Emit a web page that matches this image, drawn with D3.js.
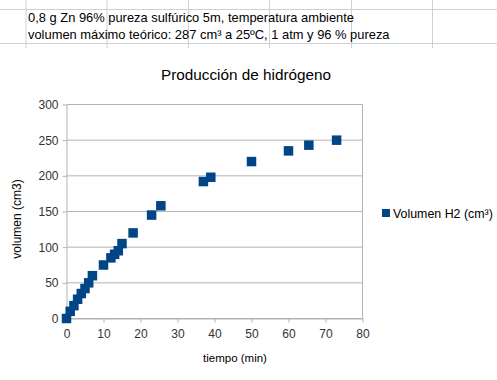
<!DOCTYPE html>
<html><head><meta charset="utf-8">
<script src="https://cdn.jsdelivr.net/npm/d3@7"></script>
<style>body{margin:0;background:#fff}svg{display:block}</style>
</head><body>
<svg id="c" width="497" height="380"></svg>
<script>
const tiempo = [0,1,2,3,4,5,6,7,10,12,13,14,15,18,23,25.5,37,39,50,60,65.5,73];
const volumen = [0,10,18,27,35,42,50,60,75,85,90,95,105,120,145,158,192,198,220,235,243,250];
const xTicks = [0,10,20,30,40,50,60,70,80];
const yTicks = [0,50,100,150,200,250,300];
const sheetLines = ["0,8 g Zn 96% pureza sulfúrico 5m, temperatura ambiente",
                    "volumen máximo teórico: 287 cm³ a 25ºC, 1 atm y 96 % pureza"];
const titleText = "Producción de hidrógeno";
const xTitle = "tiempo (min)";
const yTitle = "volumen (cm3)";
const legendText = "Volumen H2 (cm³)";

const svg = d3.select("#c");
const font = "Liberation Sans, Arial, sans-serif";

// spreadsheet grid
const sg = svg.append("g");
[26,107,188.5,269.5,351.5,432.5].forEach(x=>{
  sg.append("line").attr("x1",x).attr("x2",x).attr("y1",0).attr("y2",48).attr("stroke","#d0d0d0");
});
[9.5,43.5].forEach(y=>{
  sg.append("line").attr("x1",0).attr("x2",497).attr("y1",y).attr("y2",y).attr("stroke","#d0d0d0");
});
sheetLines.forEach((t,i)=>{
  sg.append("text").attr("x",28).attr("y",22+i*17).attr("font-family",font).attr("font-size",12.9).attr("fill","#000").text(t);
});

const x = d3.scaleLinear().domain([0,80]).range([66.5,362.5]);
const y = d3.scaleLinear().domain([0,300]).range([318.5,104.5]);

// gridlines
svg.append("g").selectAll("line").data(yTicks).join("line")
  .attr("x1",x(0)).attr("x2",x(80)).attr("y1",d=>y(d)).attr("y2",d=>y(d)).attr("stroke","#b3b3b3");
// right border
svg.append("line").attr("x1",x(80)).attr("x2",x(80)).attr("y1",y(300)).attr("y2",y(0)).attr("stroke","#b3b3b3");

const xa = svg.append("g").attr("transform",`translate(0,${y(0)})`)
  .call(d3.axisBottom(x).tickValues(xTicks).tickSize(4).tickSizeOuter(0).tickPadding(4));
const ya = svg.append("g").attr("transform",`translate(${x(0)},0)`)
  .call(d3.axisLeft(y).tickValues(yTicks).tickSize(4).tickSizeOuter(0).tickPadding(4));
[xa,ya].forEach(a=>{
  a.select(".domain").attr("stroke","#b3b3b3");
  a.selectAll(".tick line").attr("stroke","#b3b3b3");
  a.selectAll("text").attr("font-family",font).attr("font-size",12).attr("fill","#333");
});
xa.selectAll("text").attr("dy","0.95em");

// markers
const s = 9.5;
svg.append("g").selectAll("rect").data(tiempo.map((t,i)=>[t,volumen[i]])).join("rect")
  .attr("x",d=>x(d[0])-s/2).attr("y",d=>y(d[1])-s/2).attr("width",s).attr("height",s).attr("fill","#004586");

// titles
svg.append("text").attr("x",246).attr("y",80).attr("text-anchor","middle").attr("font-family",font).attr("font-size",15.3).attr("fill","#000").text(titleText);
svg.append("text").attr("x",235).attr("y",362).attr("text-anchor","middle").attr("font-family",font).attr("font-size",11.5).attr("fill","#000").text(xTitle);
svg.append("text").attr("transform",`translate(21,219) rotate(-90)`).attr("text-anchor","middle").attr("font-family",font).attr("font-size",12).attr("fill","#000").text(yTitle);

// legend
svg.append("rect").attr("x",382).attr("y",209).attr("width",8).attr("height",8).attr("fill","#004586");
svg.append("text").attr("x",393).attr("y",218).attr("font-family",font).attr("font-size",12.4).attr("fill","#000").text(legendText);
</script>
</body></html>
